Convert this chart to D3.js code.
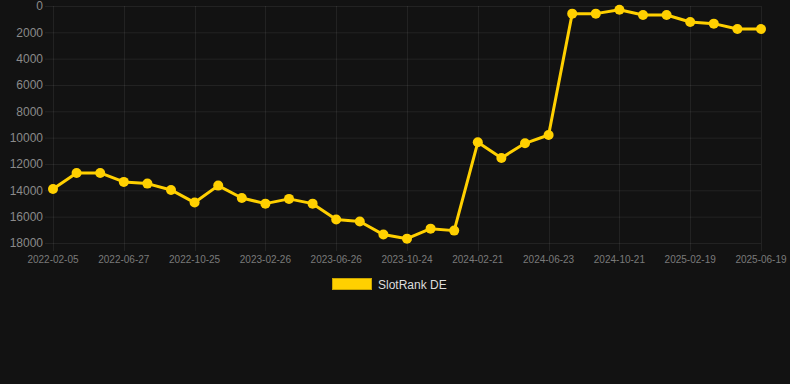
<!DOCTYPE html>
<html>
<head>
<meta charset="utf-8">
<script src="https://cdn.jsdelivr.net/npm/d3@7"></script>
<style>
  html, body { margin: 0; padding: 0; background: #121212; }
  svg { display: block; font-family: Arial, "Liberation Sans", Helvetica, sans-serif; }
</style>
</head>
<body>
<div id="chart"></div>
<script>
// Categories (one per data point)
const dates = [
  '2022-02-05', '2022-03-22', '2022-05-09', '2022-06-27', '2022-08-06', '2022-09-15',
  '2022-10-25', '2022-12-05', '2023-01-15', '2023-02-26', '2023-04-07', '2023-05-17',
  '2023-06-26', '2023-08-05', '2023-09-14', '2023-10-24', '2023-12-03', '2024-01-12',
  '2024-02-21', '2024-04-01', '2024-05-12', '2024-06-23', '2024-08-02', '2024-09-11',
  '2024-10-21', '2024-11-30', '2025-01-09', '2025-02-19', '2025-03-31', '2025-05-10',
  '2025-06-19'
];

// SlotRank DE values (rank, lower is better)
const rankDE = [
  13900, 12680, 12680, 13360, 13490, 13970, 14930, 13640, 14580, 15010, 14650,
  15010, 16220, 16370, 17360, 17670, 16910, 17060, 10350, 11540, 10430, 9800,
  580, 580, 280, 680, 680, 1215, 1340, 1750, 1750
];

// Y-axis tick values
const yTicks = [0, 2000, 4000, 6000, 8000, 10000, 12000, 14000, 16000, 18000];

// Shown x tick labels (every third category)
const xTickLabels = dates.filter((d, i) => i % 3 === 0);

const seriesName = 'SlotRank DE';
const lineColor = '#ffd000';

const width = 790, height = 384;
const plot = {left: 53, right: 761, top: 6, bottom: 243};

const svg = d3.select('#chart')
  .append('svg')
  .attr('width', width)
  .attr('height', height);

svg.append('rect')
  .attr('width', width)
  .attr('height', height)
  .attr('fill', '#121212');

const xScale = d3.scalePoint()
  .domain(dates)
  .range([plot.left, plot.right]);

const yScale = d3.scaleLinear()
  .domain([0, 18000])
  .range([plot.top, plot.bottom]);

// Grid lines
svg.append('g')
  .selectAll('line')
  .data(yTicks)
  .enter()
  .append('line')
  .attr('x1', plot.left - 8)
  .attr('x2', plot.right)
  .attr('y1', d => yScale(d) + 0.5)
  .attr('y2', d => yScale(d) + 0.5)
  .attr('stroke', 'rgba(255,255,255,0.07)')
  .attr('stroke-width', 1);

svg.append('g')
  .selectAll('line')
  .data(xTickLabels)
  .enter()
  .append('line')
  .attr('x1', d => Math.round(xScale(d)) + 0.5)
  .attr('x2', d => Math.round(xScale(d)) + 0.5)
  .attr('y1', plot.top)
  .attr('y2', plot.bottom + 8)
  .attr('stroke', 'rgba(255,255,255,0.07)')
  .attr('stroke-width', 1);

// Y axis labels
svg.append('g')
  .selectAll('text')
  .data(yTicks)
  .enter()
  .append('text')
  .attr('x', plot.left - 10)
  .attr('y', d => yScale(d))
  .attr('dy', '0.35em')
  .attr('text-anchor', 'end')
  .attr('font-size', 12)
  .attr('fill', '#8a8a8a')
  .text(d => d);

// X axis labels
svg.append('g')
  .selectAll('text')
  .data(xTickLabels)
  .enter()
  .append('text')
  .attr('x', d => xScale(d))
  .attr('y', plot.bottom + 16)
  .attr('dy', '0.35em')
  .attr('text-anchor', 'middle')
  .attr('font-size', 10)
  .attr('fill', '#7a7a7a')
  .text(d => d);

// Line
const line = d3.line()
  .x((d, i) => xScale(dates[i]))
  .y(d => yScale(d));

svg.append('path')
  .datum(rankDE)
  .attr('d', line)
  .attr('fill', 'none')
  .attr('stroke', lineColor)
  .attr('stroke-width', 3)
  .attr('stroke-linejoin', 'round');

// Points
svg.append('g')
  .selectAll('circle')
  .data(rankDE)
  .enter()
  .append('circle')
  .attr('cx', (d, i) => xScale(dates[i]))
  .attr('cy', d => yScale(d))
  .attr('r', 5)
  .attr('fill', lineColor);

// Legend
const legend = svg.append('g');
legend.append('rect')
  .attr('x', 332.5)
  .attr('y', 278.5)
  .attr('width', 39)
  .attr('height', 11)
  .attr('fill', lineColor)
  .attr('stroke', '#c9a400')
  .attr('stroke-width', 1);
legend.append('text')
  .attr('x', 378)
  .attr('y', 284.5)
  .attr('dy', '0.35em')
  .attr('font-size', 12)
  .attr('fill', '#dddddd')
  .text(seriesName);
</script>
</body>
</html>
